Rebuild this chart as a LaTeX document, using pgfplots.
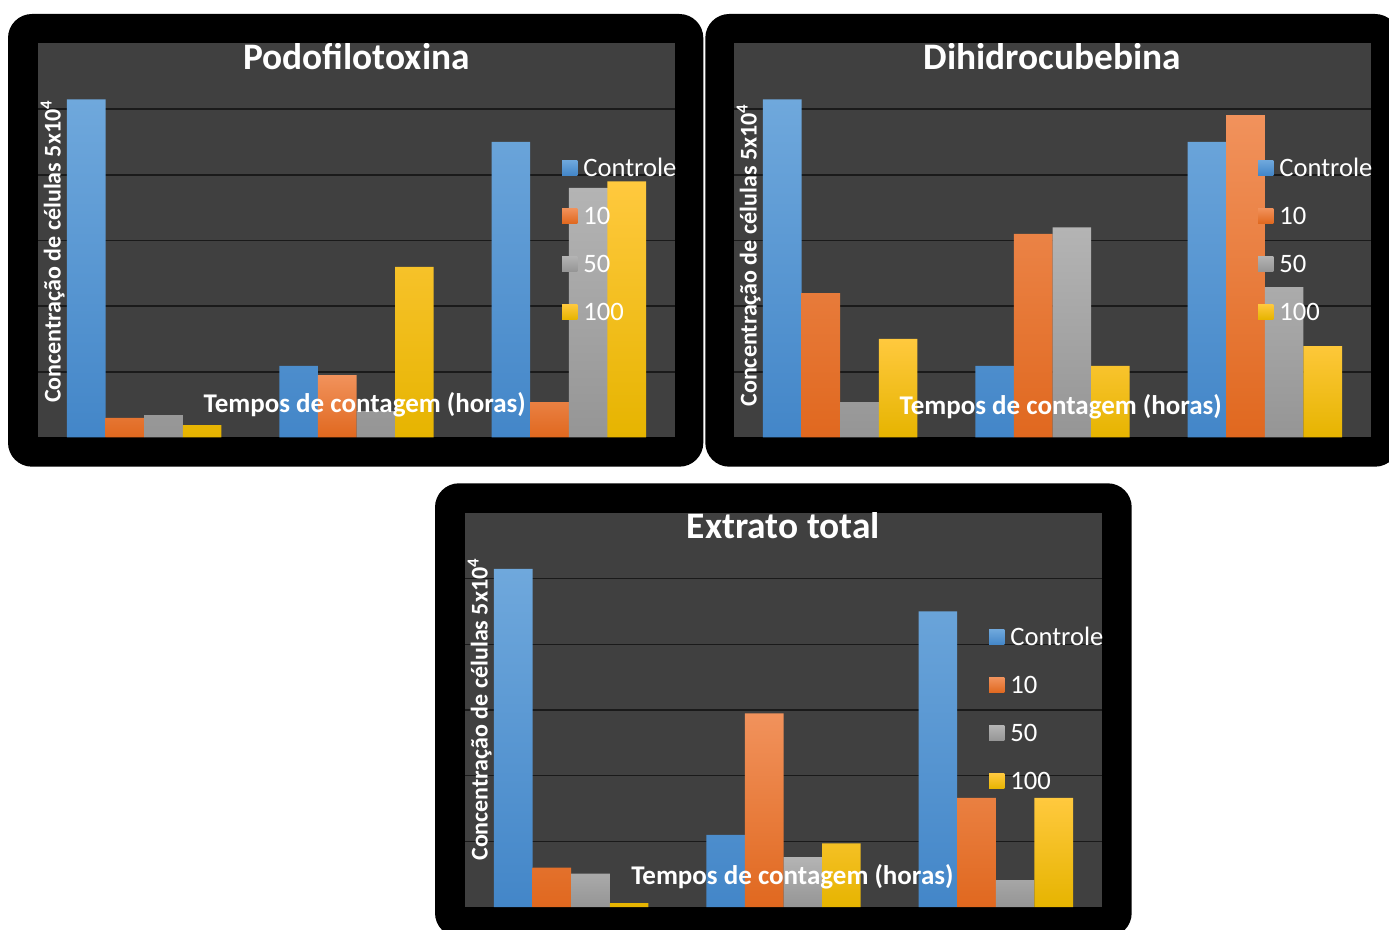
\documentclass[border=0pt]{standalone}
\usepackage{fontspec}
\setmainfont{Carlito}
\usepackage{pgfplots}
\pgfplotsset{compat=1.18}

\definecolor{plotbg}{HTML}{404040}
\definecolor{gridc}{HTML}{1A1A1A}
\definecolor{blueT}{HTML}{6FA8DC}
\definecolor{blueB}{HTML}{4386C8}
\definecolor{orangeT}{HTML}{F1925C}
\definecolor{orangeB}{HTML}{E0681F}
\definecolor{grayT}{HTML}{B4B4B4}
\definecolor{grayB}{HTML}{959595}
\definecolor{yellowT}{HTML}{FFC93E}
\definecolor{yellowB}{HTML}{E6B400}

\pgfplotsset{
  panel/.style={
    scale only axis, width=637pt, height=394pt, anchor=south west,
    ybar=0pt, bar width=38.6pt,
    xmin=-0.5, xmax=2.5, ymin=0, ymax=6,
    xtick=\empty, ytick={1,2,3,4,5}, yticklabels={}, major tick length=0pt,
    ymajorgrids, grid style={line width=1.6pt, color=gridc},
    axis line style={draw=none},
    axis background/.style={fill=plotbg},
    legend cell align=left,
    legend style={at={(0.8226,0.502)}, anchor=west, draw=none, fill=none,
      text=white, font=\fontsize{26.6}{26.6}\selectfont, inner sep=0pt,
      row sep=31.2pt, column sep=6pt,
      cells={anchor=west},
      nodes={inner sep=0pt, text height=16.8pt, text depth=0pt}},
  },
  sBlue/.style={draw=none, top color=blueT, bottom color=blueB,
    legend image code/.code={\path[draw=none, top color=blueT, bottom color=blueB] (0pt,-7.6pt) rectangle (15.2pt,7.6pt);}},
  sOrange/.style={draw=none, top color=orangeT, bottom color=orangeB,
    legend image code/.code={\path[draw=none, top color=orangeT, bottom color=orangeB] (0pt,-7.6pt) rectangle (15.2pt,7.6pt);}},
  sGray/.style={draw=none, top color=grayT, bottom color=grayB,
    legend image code/.code={\path[draw=none, top color=grayT, bottom color=grayB] (0pt,-7.6pt) rectangle (15.2pt,7.6pt);}},
  sYellow/.style={draw=none, top color=yellowT, bottom color=yellowB,
    legend image code/.code={\path[draw=none, top color=yellowT, bottom color=yellowB] (0pt,-7.6pt) rectangle (15.2pt,7.6pt);}},
}
\tikzset{
  ttl/.style={anchor=base, inner sep=0pt, text=white, font=\bfseries\fontsize{37.4}{37.4}\selectfont},
  xl/.style={anchor=base, inner sep=0pt, text=white, font=\bfseries\fontsize{27}{27}\selectfont},
  yl/.style={anchor=base, rotate=90, inner sep=0pt, text=white, font=\bfseries\fontsize{24}{24}\selectfont},
}

\begin{document}
\begin{tikzpicture}
\useasboundingbox (0pt,0pt) rectangle (1389pt,929pt);
\fill[white] (0pt,0pt) rectangle (1389pt,929pt);
\clip (0pt,0pt) rectangle (1389pt,929pt);
% black frames
\fill[black, rounded corners=24pt] (8pt,462.3pt) rectangle (703.3pt,915pt);
\fill[black, rounded corners=24pt] (705.3pt,462.3pt) rectangle (1399pt,915pt);
\fill[black, rounded corners=24pt] (435pt,-8pt) rectangle (1131.7pt,445.7pt);

% Podofilotoxina
\begin{axis}[panel, at={(38pt,491.5pt)}]
\addplot[sBlue] coordinates {(0,5.15) (1,1.09) (2,4.50)};
\addplot[sOrange] coordinates {(0,0.30) (1,0.95) (2,0.54)};
\addplot[sGray] coordinates {(0,0.34) (1,0.40) (2,3.80)};
\addplot[sYellow] coordinates {(0,0.19) (1,2.60) (2,3.90)};
\legend{Controle,10,50,100}
\node[ttl] at (rel axis cs:0.5,0.934) {Podofilotoxina};
\node[xl] at (rel axis cs:0.513,0.0635) {Tempos de contagem (horas)};
\node[yl] at (rel axis cs:0.0355,0.4716) {Concentração de células 5x10\textsuperscript{4}};
\end{axis}

% Dihidrocubebina
\begin{axis}[panel, at={(734pt,491.5pt)}]
\addplot[sBlue] coordinates {(0,5.15) (1,1.09) (2,4.50)};
\addplot[sOrange] coordinates {(0,2.20) (1,3.10) (2,4.91)};
\addplot[sGray] coordinates {(0,0.54) (1,3.20) (2,2.29)};
\addplot[sYellow] coordinates {(0,1.50) (1,1.09) (2,1.39)};
\legend{Controle,10,50,100}
\node[ttl] at (rel axis cs:0.5,0.934) {Dihidrocubebina};
\node[xl] at (rel axis cs:0.513,0.058) {Tempos de contagem (horas)};
\node[yl] at (rel axis cs:0.0355,0.462) {Concentração de células 5x10\textsuperscript{4}};
\end{axis}

% Extrato total
\begin{axis}[panel, at={(465pt,22pt)}]
\addplot[sBlue] coordinates {(0,5.15) (1,1.10) (2,4.50)};
\addplot[sOrange] coordinates {(0,0.60) (1,2.95) (2,1.66)};
\addplot[sGray] coordinates {(0,0.51) (1,0.76) (2,0.41)};
\addplot[sYellow] coordinates {(0,0.06) (1,0.97) (2,1.66)};
\legend{Controle,10,50,100}
\node[ttl] at (rel axis cs:0.5,0.934) {Extrato total};
\node[xl] at (rel axis cs:0.514,0.058) {Tempos de contagem (horas)};
\node[yl] at (rel axis cs:0.0355,0.501) {Concentração de células 5x10\textsuperscript{4}};
\end{axis}
\end{tikzpicture}
\end{document}
